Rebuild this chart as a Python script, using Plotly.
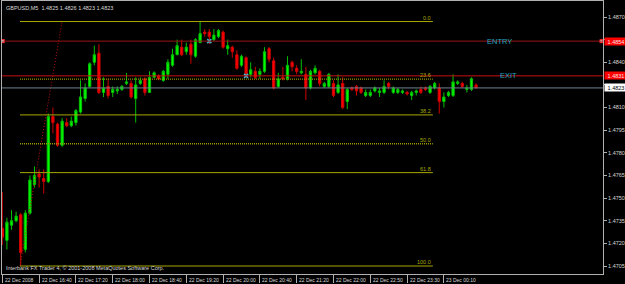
import plotly.graph_objects as go

# ---------------- data ----------------
symbol_title = "GBPUSD,M5  1.4825 1.4826 1.4823 1.4823"
copyright_text = "Interbank FX Trader 4, \u00a9 2001-2008 MetaQuotes Software Corp."

bar_index = list(range(104))
opens = [1.4730, 1.4722, 1.4732, 1.4735, 1.4739, 1.4716, 1.4740, 1.4759, 1.4766, 1.4763,
         1.4761, 1.4804, 1.4799, 1.4785, 1.4800, 1.4798, 1.4800, 1.4807, 1.4816, 1.4824,
         1.4840, 1.4846, 1.4820, 1.4824, 1.4820, 1.4821, 1.4822, 1.4826, 1.4826, 1.4816,
         1.4826, 1.4829, 1.4820, 1.4830, 1.4831, 1.4828, 1.4832, 1.4838, 1.4845, 1.4850,
         1.4847, 1.4852, 1.4844, 1.4853, 1.4860, 1.4860, 1.4855, 1.4857, 1.4860, 1.4849,
         1.4850, 1.4845, 1.4838, 1.4843, 1.4832, 1.4834, 1.4832, 1.4834, 1.4849, 1.4841,
         1.4824, 1.4830, 1.4829, 1.4840, 1.4836, 1.4833, 1.4832, 1.4823, 1.4833, 1.4834,
         1.4824, 1.4824, 1.4826, 1.4820, 1.4826, 1.4814, 1.4823, 1.4824, 1.4823, 1.4818,
         1.4818, 1.4821, 1.4820, 1.4820, 1.4826, 1.4820, 1.4820, 1.4820, 1.4820, 1.4818,
         1.4820, 1.4822, 1.4823, 1.4820, 1.4823, 1.4823, 1.4814, 1.4818, 1.4818, 1.4826,
         1.4826, 1.4822, 1.4822, 1.4825]
highs = [1.4754, 1.4737, 1.4742, 1.4741, 1.4740, 1.4742, 1.4765, 1.4771, 1.4769, 1.4769,
         1.4806, 1.4810, 1.4800, 1.4803, 1.4803, 1.4804, 1.4809, 1.4828, 1.4826, 1.4840,
         1.4851, 1.4852, 1.4830, 1.4829, 1.4824, 1.4824, 1.4825, 1.4833, 1.4828, 1.4830,
         1.4830, 1.4830, 1.4834, 1.4834, 1.4832, 1.4835, 1.4842, 1.4849, 1.4855, 1.4855,
         1.4853, 1.4855, 1.4856, 1.4867, 1.4862, 1.4862, 1.4862, 1.4862, 1.4861, 1.4855,
         1.4851, 1.4848, 1.4845, 1.4844, 1.4840, 1.4837, 1.4836, 1.4850, 1.4850, 1.4843,
         1.4833, 1.4837, 1.4844, 1.4841, 1.4838, 1.4842, 1.4837, 1.4835, 1.4838, 1.4835,
         1.4827, 1.4833, 1.4828, 1.4832, 1.4830, 1.4823, 1.4824, 1.4825, 1.4824, 1.4822,
         1.4822, 1.4824, 1.4823, 1.4828, 1.4827, 1.4824, 1.4823, 1.4822, 1.4821, 1.4821,
         1.4822, 1.4824, 1.4824, 1.4825, 1.4827, 1.4826, 1.4820, 1.4821, 1.4832, 1.4828,
         1.4827, 1.4825, 1.4830, 1.4826]
lows = [1.4719, 1.4716, 1.4729, 1.4734, 1.4705, 1.4714, 1.4739, 1.4757, 1.4757, 1.4753,
        1.4760, 1.4793, 1.4784, 1.4784, 1.4797, 1.4797, 1.4798, 1.4806, 1.4814, 1.4823,
        1.4838, 1.4819, 1.4817, 1.4816, 1.4817, 1.4819, 1.4821, 1.4825, 1.4816, 1.4800,
        1.4825, 1.4818, 1.4820, 1.4830, 1.4828, 1.4827, 1.4829, 1.4837, 1.4845, 1.4844,
        1.4845, 1.4839, 1.4843, 1.4853, 1.4857, 1.4852, 1.4854, 1.4856, 1.4849, 1.4845,
        1.4843, 1.4835, 1.4837, 1.4830, 1.4830, 1.4829, 1.4829, 1.4833, 1.4840, 1.4822,
        1.4823, 1.4828, 1.4828, 1.4834, 1.4832, 1.4832, 1.4815, 1.4822, 1.4832, 1.4824,
        1.4823, 1.4823, 1.4817, 1.4819, 1.4809, 1.4809, 1.4821, 1.4818, 1.4819, 1.4817,
        1.4817, 1.4820, 1.4817, 1.4819, 1.4822, 1.4819, 1.4819, 1.4819, 1.4818, 1.4815,
        1.4818, 1.4819, 1.4821, 1.4819, 1.4822, 1.4806, 1.4810, 1.4817, 1.4817, 1.4825,
        1.4823, 1.4820, 1.4821, 1.4823]
closes = [1.4724, 1.4734, 1.4735, 1.4738, 1.4714, 1.4740, 1.4762, 1.4765, 1.4764, 1.4761,
          1.4804, 1.4800, 1.4785, 1.4801, 1.4798, 1.4801, 1.4808, 1.4817, 1.4823, 1.4839,
          1.4845, 1.4820, 1.4823, 1.4818, 1.4822, 1.4822, 1.4824, 1.4827, 1.4817, 1.4825,
          1.4828, 1.4820, 1.4830, 1.4833, 1.4829, 1.4834, 1.4840, 1.4845, 1.4851, 1.4845,
          1.4850, 1.4845, 1.4855, 1.4859, 1.4859, 1.4857, 1.4858, 1.4861, 1.4850, 1.4851,
          1.4847, 1.4836, 1.4844, 1.4832, 1.4835, 1.4830, 1.4834, 1.4847, 1.4842, 1.4823,
          1.4829, 1.4829, 1.4838, 1.4837, 1.4834, 1.4834, 1.4823, 1.4834, 1.4836, 1.4826,
          1.4826, 1.4832, 1.4818, 1.4825, 1.4810, 1.4822, 1.4822, 1.4821, 1.4820, 1.4820,
          1.4820, 1.4823, 1.4821, 1.4824, 1.4824, 1.4823, 1.4822, 1.4821, 1.4819, 1.4820,
          1.4821, 1.4820, 1.4822, 1.4824, 1.4826, 1.4814, 1.4817, 1.4820, 1.4827, 1.4827,
          1.4824, 1.4823, 1.4829, 1.4823]

time_tick_bars = [0, 8, 16, 24, 32, 40, 48, 56, 64, 72, 80, 88, 96]
time_tick_labels = ["22 Dec 2008", "22 Dec 16:40", "22 Dec 17:20", "22 Dec 18:00",
                    "22 Dec 18:40", "22 Dec 19:20", "22 Dec 20:00", "22 Dec 20:40",
                    "22 Dec 21:20", "22 Dec 22:00", "22 Dec 22:50", "22 Dec 23:30",
                    "23 Dec 00:10"]
price_ticks = [1.4705, 1.4720, 1.4735, 1.4750, 1.4765, 1.4780, 1.4795, 1.4810,
               1.4825, 1.4840, 1.4855, 1.4870]
# tick labels hidden behind the price boxes on the right
hidden_tick_labels = [1.4825, 1.4855]

entry_price = 1.4854
exit_price = 1.4831
bid_price = 1.4823

fib_low_bar, fib_low_price = 4, 1.4705
fib_high_bar, fib_high_price = 13, 1.4867
fib_end_bar = 93.6
fib_levels = [0.0, 23.6, 38.2, 50.0, 61.8, 100.0]
fib_dotted = [False, True, False, True, False, False]

trade_bars = [45, 53]
trade_prices = [1.4854, 1.4831]

x_range = [-0.07, 130.6]
y_range = [1.46997, 1.48806]

# ---------------- figure ----------------
BG = "#000000"
FRAME = "#b0b0b0"
FIB_COL = "#a8a800"
TXT = "#d8d8d8"

fig = go.Figure()

fig.add_trace(go.Candlestick(
    x=bar_index, open=opens, high=highs, low=lows, close=closes,
    increasing=dict(line=dict(color="#00c000", width=1), fillcolor="#00ff00"),
    decreasing=dict(line=dict(color="#d00000", width=1), fillcolor="#ff0000"),
    whiskerwidth=0, showlegend=False, hoverinfo="skip",
))

# fibonacci levels
rng = fib_high_price - fib_low_price
for lvl, dotted in zip(fib_levels, fib_dotted):
    p = fib_high_price - lvl / 100.0 * rng
    fig.add_shape(type="line", x0=fib_low_bar - 0.15, x1=fib_end_bar, y0=p, y1=p,
                  xref="x", yref="y",
                  line=dict(color=FIB_COL if not dotted else "#9a9a00", width=1.3 if dotted else 1,
                            dash="1px,1px" if dotted else "solid"))
    fig.add_annotation(x=fib_end_bar, y=p, xref="x", yref="y", text="%.1f" % lvl,
                       showarrow=False, xanchor="right", yanchor="bottom", yshift=-1,
                       font=dict(family="Liberation Sans", size=5.5, color=FIB_COL))

# fib trend line (dotted red)
fig.add_trace(go.Scatter(x=[fib_low_bar - 0.15, fib_high_bar], y=[fib_low_price, fib_high_price],
                         mode="lines", line=dict(color="#c01010", width=1, dash="1px,2px"),
                         showlegend=False, hoverinfo="skip"))

# horizontal lines
fig.add_hline(y=bid_price, line=dict(color="#708090", width=1))
fig.add_hline(y=exit_price, line=dict(color="#c81010", width=1))
fig.add_hline(y=entry_price, line=dict(color="#9a1414", width=1))

# selection handles on entry line
fig.add_trace(go.Scatter(x=[x_range[0] + 0.2, x_range[1] - 0.35], y=[entry_price, entry_price],
                         mode="markers", cliponaxis=False,
                         marker=dict(symbol="square", size=3, color="#ffffff",
                                     line=dict(color="#ff2020", width=1)),
                         showlegend=False, hoverinfo="skip"))

# trade markers
fig.add_trace(go.Scatter(x=trade_bars, y=trade_prices, mode="markers",
                         marker=dict(symbol="x-thin", size=4,
                                     line=dict(color="#40b8d0", width=1.5)),
                         showlegend=False, hoverinfo="skip"))

# ENTRY / EXIT texts
fig.add_annotation(x=108.2, y=entry_price, text="ENTRY", showarrow=False,
                   font=dict(family="Liberation Sans", size=7.5, color="#20a8c0"))
fig.add_annotation(x=110.0, y=exit_price, text="EXIT", showarrow=False,
                   font=dict(family="Liberation Sans", size=7.5, color="#20a8c0"))

# right price boxes
for p, bg, fc in [(entry_price, "#ff0000", "#ffe0e0"), (exit_price, "#ff0000", "#ffe0e0"),
                  (bid_price, "#ffffff", "#000000")]:
    fig.add_annotation(x=1, xref="paper", y=p, yref="y", text="%.4f" % p,
                       showarrow=False, xanchor="left", xshift=1, yanchor="middle",
                       bgcolor=bg, borderpad=0.5, width=21,
                       font=dict(family="Liberation Sans", size=5.5, color=fc))

# time labels
for b, lab in zip(time_tick_bars, time_tick_labels):
    fig.add_annotation(x=b, xref="x", y=0, yref="paper", text=lab, showarrow=False,
                       xanchor="left", xshift=0.5, yanchor="middle", yshift=-5.5,
                       font=dict(family="Liberation Sans", size=5, color=TXT))

# title and copyright
fig.add_annotation(x=0, xref="paper", y=1, yref="paper", text=symbol_title,
                   showarrow=False, xanchor="left", yanchor="top", xshift=1.5, yshift=-1.5,
                   font=dict(family="Liberation Sans", size=5.5, color=TXT))
fig.add_annotation(x=0, xref="paper", y=0, yref="paper", text=copyright_text,
                   showarrow=False, xanchor="left", yanchor="bottom", xshift=1.5, yshift=1,
                   font=dict(family="Liberation Sans", size=5.5, color=TXT))

fig.update_layout(
    width=625, height=284,
    margin=dict(l=2, r=22, t=1, b=10),
    paper_bgcolor=BG, plot_bgcolor=BG,
    showlegend=False,
    xaxis=dict(range=x_range, showgrid=False, zeroline=False, rangeslider=dict(visible=False),
               showline=True, mirror=True, linecolor=FRAME, linewidth=1,
               tickmode="array", tickvals=time_tick_bars, showticklabels=False,
               ticks="outside", ticklen=8, tickcolor=FRAME, tickwidth=1),
    yaxis=dict(range=y_range, side="right", showgrid=False, zeroline=False,
               showline=True, mirror=True, linecolor=FRAME, linewidth=1,
               tickmode="array", tickvals=price_ticks,
               ticktext=["" if t in hidden_tick_labels else "%.4f" % t for t in price_ticks],
               ticks="outside", ticklen=3, tickcolor=FRAME, tickwidth=1,
               tickfont=dict(family="Liberation Sans", size=5.5, color=TXT)),
)

fig.write_html("out.html")
